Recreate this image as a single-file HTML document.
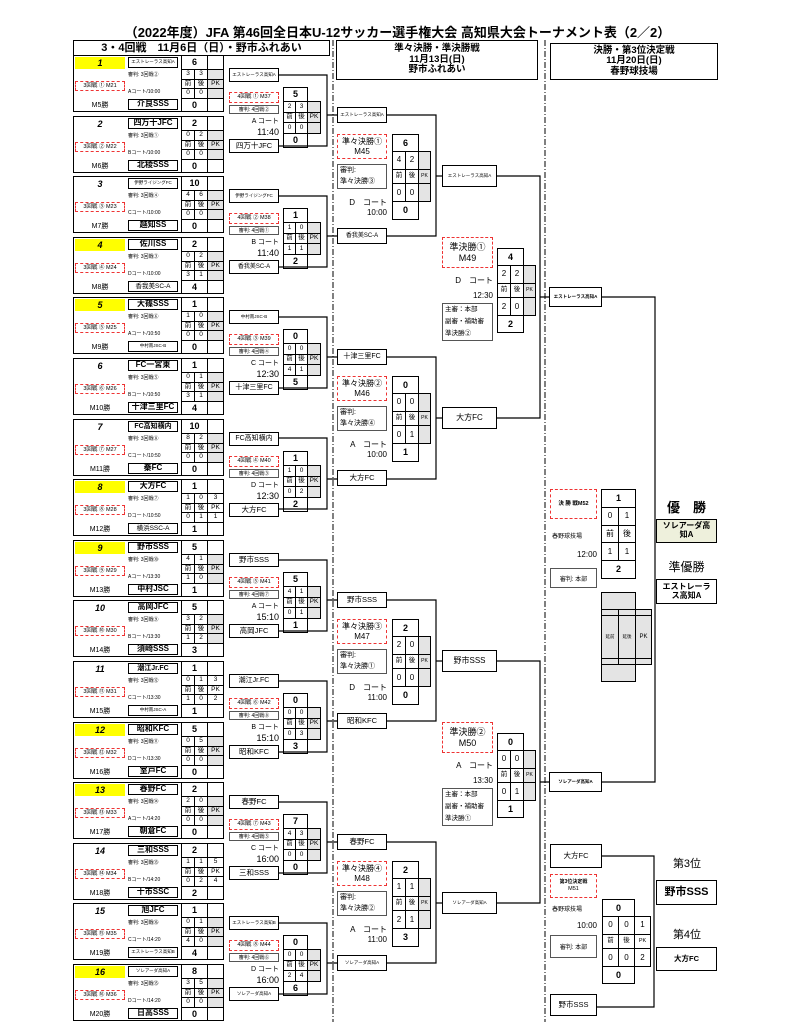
<!DOCTYPE html>
<html><head><meta charset="utf-8"><style>
*{margin:0;padding:0;box-sizing:border-box}
body{width:795px;height:1024px;background:#fff;position:relative;overflow:hidden;font-family:"Liberation Sans","Noto Sans CJK JP",sans-serif;color:#000}
.a{position:absolute}
.w{position:absolute;left:0;width:795px;height:0}
.b{position:absolute;border:1px solid #000;background:#fff;text-align:center;display:flex;align-items:center;justify-content:center;line-height:1.1}
.fr{position:absolute;border:1px solid #000}
.y{position:absolute;background:#ffff00;text-align:center;font-style:italic;font-weight:bold;font-size:9px;line-height:12px}
.nn{position:absolute;text-align:center;font-style:italic;font-weight:bold;font-size:9px;line-height:12px}
.r{position:absolute;border:1.5px dashed #e33;text-align:center;font-size:5.5px;display:flex;align-items:center;justify-content:center;line-height:1.15;background:#fff}
.t{position:absolute;font-size:5px;white-space:nowrap}
.m{position:absolute;text-align:center;font-size:7px}
.tn{font-size:8px;font-weight:bold}
.sm{font-size:4.5px}
table.s{position:absolute;border-collapse:collapse;table-layout:fixed}
table.s td{border:1px solid #000;padding:0;text-align:center;font-size:6.5px;line-height:1;overflow:hidden}
table.s td.g{background:#e4e4e4}
table.s td.n{border:none;border-left:1px solid #000}
table.s td.k{font-weight:bold;font-size:9px}
.rt{position:absolute;text-align:right;white-space:nowrap}
.gb{position:absolute;border:1px solid #555;background:#fff}
</style></head><body>

<div class="a" style="left:0;top:22px;width:795px;text-align:center;font-size:13px;font-weight:bold">（2022年度）JFA 第46回全日本U-12サッカー選手権大会 高知県大会トーナメント表（2／2）</div>
<div class="b" style="left:73px;top:40px;width:257px;height:16px;font-size:11px;font-weight:bold">3・4回戦　11月6日（日）・野市ふれあい</div>
<div class="b" style="left:336px;top:40px;width:202px;height:40px;font-size:9.5px;font-weight:bold;flex-direction:column">準々決勝・準決勝戦<br>11月13日(日)<br>野市ふれあい</div>
<div class="b" style="left:550px;top:43px;width:168px;height:37px;font-size:9.5px;font-weight:bold;flex-direction:column">決勝・第3位決定戦<br>11月20日(日)<br>春野球技場</div>

<svg class="a" style="left:0;top:0" width="795" height="1024">
<g stroke="#000" stroke-width="1" stroke-dasharray="6,2,1,2"><line x1="333" y1="40" x2="333" y2="1022"/><line x1="545" y1="40" x2="545" y2="1022"/></g>
<g stroke="#000" stroke-width="1.2" fill="none">
<path d="M279 75H327V146H279M327 115H337"/>
<path d="M279 196H327V267H279M327 236H337"/>
<path d="M279 317H327V388H279M327 357H337"/>
<path d="M279 438H327V509H279M327 479H337"/>
<path d="M279 560H327V631H279M327 600H337"/>
<path d="M279 681H327V752H279M327 721H337"/>
<path d="M279 802H327V873H279M327 842H337"/>
<path d="M279 923H327V994H279M327 963H337"/>
<path d="M387 115H436V236H387M436 176H442"/>
<path d="M387 357H436V479H387M436 418H442"/>
<path d="M387 600H436V721H387M436 661H442"/>
<path d="M387 842H436V963H387M436 903H442"/>
<path d="M497 176H540V418H497M540 297H549"/>
<path d="M497 661H540V903H497M540 782H549"/>
<path d="M602 297H655V782H602"/>
<path d="M602 856H654V1007H597"/>
</g></svg>

<!-- 3rd round blocks -->
<div class="w" style="top:53px"><div class="fr" style="left:73px;top:2px;width:151px;height:57px"></div><div class="y" style="left:75px;top:4px;width:50px;height:12px">1</div><div class="b sm" style="left:128px;top:4px;width:50px;height:11px">エストレーラス高知A</div><div class="t" style="left:128px;top:18px">審判: 3回戦②</div><div class="r" style="left:75px;top:28px;width:50px;height:10px">3回戦 ① M21</div><div class="t" style="left:128px;top:35px">Aコート/10:00</div><div class="m" style="left:75px;top:47px;width:50px">M5勝</div><div class="b tn" style="left:128px;top:46px;width:50px;height:11px">介良SSS</div>
<table class="s" style="left:181px;top:2px;width:42px;height:57px"><col style="width:13px"><col style="width:13px"><col style="width:16px"><tr style="height:14px"><td colspan="2" class="k">6</td><td class="n"></td></tr><tr><td>3</td><td>3</td><td class="g"></td></tr><tr><td>前</td><td>後</td><td class="g">PK</td></tr><tr><td>0</td><td>0</td><td class="g"></td></tr><tr style="height:13px"><td colspan="2" class="k">0</td><td class="n"></td></tr></table></div>

<div class="w" style="top:114px"><div class="fr" style="left:73px;top:2px;width:151px;height:57px"></div><div class="nn" style="left:75px;top:4px;width:50px">2</div><div class="b tn" style="left:128px;top:4px;width:50px;height:11px">四万十JFC</div><div class="t" style="left:128px;top:18px">審判: 3回戦①</div><div class="r" style="left:75px;top:28px;width:50px;height:10px">3回戦 ② M22</div><div class="t" style="left:128px;top:35px">Bコート/10:00</div><div class="m" style="left:75px;top:47px;width:50px">M6勝</div><div class="b tn" style="left:128px;top:46px;width:50px;height:11px">北稜SSS</div>
<table class="s" style="left:181px;top:2px;width:42px;height:57px"><col style="width:13px"><col style="width:13px"><col style="width:16px"><tr style="height:14px"><td colspan="2" class="k">2</td><td class="n"></td></tr><tr><td>0</td><td>2</td><td class="g"></td></tr><tr><td>前</td><td>後</td><td class="g">PK</td></tr><tr><td>0</td><td>0</td><td class="g"></td></tr><tr style="height:13px"><td colspan="2" class="k">0</td><td class="n"></td></tr></table></div>

<div class="w" style="top:174px"><div class="fr" style="left:73px;top:2px;width:151px;height:57px"></div><div class="nn" style="left:75px;top:4px;width:50px">3</div><div class="b sm" style="left:128px;top:4px;width:50px;height:11px">伊野ライジングFC</div><div class="t" style="left:128px;top:18px">審判: 3回戦④</div><div class="r" style="left:75px;top:28px;width:50px;height:10px">3回戦 ③ M23</div><div class="t" style="left:128px;top:35px">Cコート/10:00</div><div class="m" style="left:75px;top:47px;width:50px">M7勝</div><div class="b tn" style="left:128px;top:46px;width:50px;height:11px">越知SS</div>
<table class="s" style="left:181px;top:2px;width:42px;height:57px"><col style="width:13px"><col style="width:13px"><col style="width:16px"><tr style="height:14px"><td colspan="2" class="k">10</td><td class="n"></td></tr><tr><td>4</td><td>6</td><td class="g"></td></tr><tr><td>前</td><td>後</td><td class="g">PK</td></tr><tr><td>0</td><td>0</td><td class="g"></td></tr><tr style="height:13px"><td colspan="2" class="k">0</td><td class="n"></td></tr></table></div>

<div class="w" style="top:235px"><div class="fr" style="left:73px;top:2px;width:151px;height:57px"></div><div class="y" style="left:75px;top:4px;width:50px;height:12px">4</div><div class="b tn" style="left:128px;top:4px;width:50px;height:11px">佐川SS</div><div class="t" style="left:128px;top:18px">審判: 3回戦③</div><div class="r" style="left:75px;top:28px;width:50px;height:10px">3回戦 ④ M24</div><div class="t" style="left:128px;top:35px">Dコート/10:00</div><div class="m" style="left:75px;top:47px;width:50px">M8勝</div><div class="b" style="left:128px;top:46px;width:50px;height:11px;font-size:6.5px">香我美SC-A</div>
<table class="s" style="left:181px;top:2px;width:42px;height:57px"><col style="width:13px"><col style="width:13px"><col style="width:16px"><tr style="height:14px"><td colspan="2" class="k">2</td><td class="n"></td></tr><tr><td>0</td><td>2</td><td class="g"></td></tr><tr><td>前</td><td>後</td><td class="g">PK</td></tr><tr><td>3</td><td>1</td><td class="g"></td></tr><tr style="height:13px"><td colspan="2" class="k">4</td><td class="n"></td></tr></table></div>

<div class="w" style="top:295px"><div class="fr" style="left:73px;top:2px;width:151px;height:57px"></div><div class="y" style="left:75px;top:4px;width:50px;height:12px">5</div><div class="b tn" style="left:128px;top:4px;width:50px;height:11px">大篠SSS</div><div class="t" style="left:128px;top:18px">審判: 3回戦⑥</div><div class="r" style="left:75px;top:28px;width:50px;height:10px">3回戦 ⑤ M25</div><div class="t" style="left:128px;top:35px">Aコート/10:50</div><div class="m" style="left:75px;top:47px;width:50px">M9勝</div><div class="b sm" style="left:128px;top:46px;width:50px;height:11px">中村南JSC-B</div>
<table class="s" style="left:181px;top:2px;width:42px;height:57px"><col style="width:13px"><col style="width:13px"><col style="width:16px"><tr style="height:14px"><td colspan="2" class="k">1</td><td class="n"></td></tr><tr><td>1</td><td>0</td><td class="g"></td></tr><tr><td>前</td><td>後</td><td class="g">PK</td></tr><tr><td>0</td><td>0</td><td class="g"></td></tr><tr style="height:13px"><td colspan="2" class="k">0</td><td class="n"></td></tr></table></div>

<div class="w" style="top:356px"><div class="fr" style="left:73px;top:2px;width:151px;height:57px"></div><div class="nn" style="left:75px;top:4px;width:50px">6</div><div class="b tn" style="left:128px;top:4px;width:50px;height:11px">FC一宮東</div><div class="t" style="left:128px;top:18px">審判: 3回戦⑤</div><div class="r" style="left:75px;top:28px;width:50px;height:10px">3回戦 ⑥ M26</div><div class="t" style="left:128px;top:35px">Bコート/10:50</div><div class="m" style="left:75px;top:47px;width:50px">M10勝</div><div class="b tn" style="left:128px;top:46px;width:50px;height:11px">十津三里FC</div>
<table class="s" style="left:181px;top:2px;width:42px;height:57px"><col style="width:13px"><col style="width:13px"><col style="width:16px"><tr style="height:14px"><td colspan="2" class="k">1</td><td class="n"></td></tr><tr><td>0</td><td>1</td><td class="g"></td></tr><tr><td>前</td><td>後</td><td class="g">PK</td></tr><tr><td>3</td><td>1</td><td class="g"></td></tr><tr style="height:13px"><td colspan="2" class="k">4</td><td class="n"></td></tr></table></div>

<div class="w" style="top:417px"><div class="fr" style="left:73px;top:2px;width:151px;height:57px"></div><div class="nn" style="left:75px;top:4px;width:50px">7</div><div class="b tn" style="left:128px;top:4px;width:50px;height:11px;font-size:7px">FC高知横内</div><div class="t" style="left:128px;top:18px">審判: 3回戦⑧</div><div class="r" style="left:75px;top:28px;width:50px;height:10px">3回戦 ⑦ M27</div><div class="t" style="left:128px;top:35px">Cコート/10:50</div><div class="m" style="left:75px;top:47px;width:50px">M11勝</div><div class="b tn" style="left:128px;top:46px;width:50px;height:11px">秦FC</div>
<table class="s" style="left:181px;top:2px;width:42px;height:57px"><col style="width:13px"><col style="width:13px"><col style="width:16px"><tr style="height:14px"><td colspan="2" class="k">10</td><td class="n"></td></tr><tr><td>8</td><td>2</td><td class="g"></td></tr><tr><td>前</td><td>後</td><td class="g">PK</td></tr><tr><td>0</td><td>0</td><td class="g"></td></tr><tr style="height:13px"><td colspan="2" class="k">0</td><td class="n"></td></tr></table></div>

<div class="w" style="top:477px"><div class="fr" style="left:73px;top:2px;width:151px;height:57px"></div><div class="y" style="left:75px;top:4px;width:50px;height:12px">8</div><div class="b tn" style="left:128px;top:4px;width:50px;height:11px">大方FC</div><div class="t" style="left:128px;top:18px">審判: 3回戦⑦</div><div class="r" style="left:75px;top:28px;width:50px;height:10px">3回戦 ⑧ M28</div><div class="t" style="left:128px;top:35px">Dコート/10:50</div><div class="m" style="left:75px;top:47px;width:50px">M12勝</div><div class="b" style="left:128px;top:46px;width:50px;height:11px;font-size:6.5px">横浜SSC-A</div>
<table class="s" style="left:181px;top:2px;width:42px;height:57px"><col style="width:13px"><col style="width:13px"><col style="width:16px"><tr style="height:14px"><td colspan="2" class="k">1</td><td class="n"></td></tr><tr><td>1</td><td>0</td><td>3</td></tr><tr><td>前</td><td>後</td><td>PK</td></tr><tr><td>0</td><td>1</td><td>1</td></tr><tr style="height:13px"><td colspan="2" class="k">1</td><td class="n"></td></tr></table></div>

<div class="w" style="top:538px"><div class="fr" style="left:73px;top:2px;width:151px;height:57px"></div><div class="y" style="left:75px;top:4px;width:50px;height:12px">9</div><div class="b tn" style="left:128px;top:4px;width:50px;height:11px">野市SSS</div><div class="t" style="left:128px;top:18px">審判: 3回戦⑩</div><div class="r" style="left:75px;top:28px;width:50px;height:10px">3回戦 ⑨ M29</div><div class="t" style="left:128px;top:35px">Aコート/13:30</div><div class="m" style="left:75px;top:47px;width:50px">M13勝</div><div class="b tn" style="left:128px;top:46px;width:50px;height:11px">中村JSC</div>
<table class="s" style="left:181px;top:2px;width:42px;height:57px"><col style="width:13px"><col style="width:13px"><col style="width:16px"><tr style="height:14px"><td colspan="2" class="k">5</td><td class="n"></td></tr><tr><td>4</td><td>1</td><td class="g"></td></tr><tr><td>前</td><td>後</td><td class="g">PK</td></tr><tr><td>1</td><td>0</td><td class="g"></td></tr><tr style="height:13px"><td colspan="2" class="k">1</td><td class="n"></td></tr></table></div>

<div class="w" style="top:598px"><div class="fr" style="left:73px;top:2px;width:151px;height:57px"></div><div class="nn" style="left:75px;top:4px;width:50px">10</div><div class="b tn" style="left:128px;top:4px;width:50px;height:11px">高岡JFC</div><div class="t" style="left:128px;top:18px">審判: 3回戦⑨</div><div class="r" style="left:75px;top:28px;width:50px;height:10px">3回戦 ⑩ M30</div><div class="t" style="left:128px;top:35px">Bコート/13:30</div><div class="m" style="left:75px;top:47px;width:50px">M14勝</div><div class="b tn" style="left:128px;top:46px;width:50px;height:11px">須崎SSS</div>
<table class="s" style="left:181px;top:2px;width:42px;height:57px"><col style="width:13px"><col style="width:13px"><col style="width:16px"><tr style="height:14px"><td colspan="2" class="k">5</td><td class="n"></td></tr><tr><td>3</td><td>2</td><td class="g"></td></tr><tr><td>前</td><td>後</td><td class="g">PK</td></tr><tr><td>1</td><td>2</td><td class="g"></td></tr><tr style="height:13px"><td colspan="2" class="k">3</td><td class="n"></td></tr></table></div>

<div class="w" style="top:659px"><div class="fr" style="left:73px;top:2px;width:151px;height:57px"></div><div class="nn" style="left:75px;top:4px;width:50px">11</div><div class="b tn" style="left:128px;top:4px;width:50px;height:11px;font-size:7px">潮江Jr.FC</div><div class="t" style="left:128px;top:18px">審判: 3回戦⑫</div><div class="r" style="left:75px;top:28px;width:50px;height:10px">3回戦 ⑪ M31</div><div class="t" style="left:128px;top:35px">Cコート/13:30</div><div class="m" style="left:75px;top:47px;width:50px">M15勝</div><div class="b sm" style="left:128px;top:46px;width:50px;height:11px">中村南JSC-A</div>
<table class="s" style="left:181px;top:2px;width:42px;height:57px"><col style="width:13px"><col style="width:13px"><col style="width:16px"><tr style="height:14px"><td colspan="2" class="k">1</td><td class="n"></td></tr><tr><td>0</td><td>1</td><td>3</td></tr><tr><td>前</td><td>後</td><td>PK</td></tr><tr><td>1</td><td>0</td><td>2</td></tr><tr style="height:13px"><td colspan="2" class="k">1</td><td class="n"></td></tr></table></div>

<div class="w" style="top:720px"><div class="fr" style="left:73px;top:2px;width:151px;height:57px"></div><div class="y" style="left:75px;top:4px;width:50px;height:12px">12</div><div class="b tn" style="left:128px;top:4px;width:50px;height:11px">昭和KFC</div><div class="t" style="left:128px;top:18px">審判: 3回戦⑪</div><div class="r" style="left:75px;top:28px;width:50px;height:10px">3回戦 ⑫ M32</div><div class="t" style="left:128px;top:35px">Dコート/13:30</div><div class="m" style="left:75px;top:47px;width:50px">M16勝</div><div class="b tn" style="left:128px;top:46px;width:50px;height:11px">室戸FC</div>
<table class="s" style="left:181px;top:2px;width:42px;height:57px"><col style="width:13px"><col style="width:13px"><col style="width:16px"><tr style="height:14px"><td colspan="2" class="k">5</td><td class="n"></td></tr><tr><td>0</td><td>5</td><td class="g"></td></tr><tr><td>前</td><td>後</td><td class="g">PK</td></tr><tr><td>0</td><td>0</td><td class="g"></td></tr><tr style="height:13px"><td colspan="2" class="k">0</td><td class="n"></td></tr></table></div>

<div class="w" style="top:780px"><div class="fr" style="left:73px;top:2px;width:151px;height:57px"></div><div class="y" style="left:75px;top:4px;width:50px;height:12px">13</div><div class="b tn" style="left:128px;top:4px;width:50px;height:11px">春野FC</div><div class="t" style="left:128px;top:18px">審判: 3回戦⑭</div><div class="r" style="left:75px;top:28px;width:50px;height:10px">3回戦 ⑬ M33</div><div class="t" style="left:128px;top:35px">Aコート/14:20</div><div class="m" style="left:75px;top:47px;width:50px">M17勝</div><div class="b tn" style="left:128px;top:46px;width:50px;height:11px">朝倉FC</div>
<table class="s" style="left:181px;top:2px;width:42px;height:57px"><col style="width:13px"><col style="width:13px"><col style="width:16px"><tr style="height:14px"><td colspan="2" class="k">2</td><td class="n"></td></tr><tr><td>2</td><td>0</td><td class="g"></td></tr><tr><td>前</td><td>後</td><td class="g">PK</td></tr><tr><td>0</td><td>0</td><td class="g"></td></tr><tr style="height:13px"><td colspan="2" class="k">0</td><td class="n"></td></tr></table></div>

<div class="w" style="top:841px"><div class="fr" style="left:73px;top:2px;width:151px;height:57px"></div><div class="nn" style="left:75px;top:4px;width:50px">14</div><div class="b tn" style="left:128px;top:4px;width:50px;height:11px">三和SSS</div><div class="t" style="left:128px;top:18px">審判: 3回戦⑬</div><div class="r" style="left:75px;top:28px;width:50px;height:10px">3回戦 ⑭ M34</div><div class="t" style="left:128px;top:35px">Bコート/14:20</div><div class="m" style="left:75px;top:47px;width:50px">M18勝</div><div class="b tn" style="left:128px;top:46px;width:50px;height:11px">十市SSC</div>
<table class="s" style="left:181px;top:2px;width:42px;height:57px"><col style="width:13px"><col style="width:13px"><col style="width:16px"><tr style="height:14px"><td colspan="2" class="k">2</td><td class="n"></td></tr><tr><td>1</td><td>1</td><td>5</td></tr><tr><td>前</td><td>後</td><td>PK</td></tr><tr><td>0</td><td>2</td><td>4</td></tr><tr style="height:13px"><td colspan="2" class="k">2</td><td class="n"></td></tr></table></div>

<div class="w" style="top:901px"><div class="fr" style="left:73px;top:2px;width:151px;height:57px"></div><div class="nn" style="left:75px;top:4px;width:50px">15</div><div class="b tn" style="left:128px;top:4px;width:50px;height:11px">旭JFC</div><div class="t" style="left:128px;top:18px">審判: 3回戦⑯</div><div class="r" style="left:75px;top:28px;width:50px;height:10px">3回戦 ⑮ M35</div><div class="t" style="left:128px;top:35px">Cコート/14:20</div><div class="m" style="left:75px;top:47px;width:50px">M19勝</div><div class="b sm" style="left:128px;top:46px;width:50px;height:11px">エストレーラス高知B</div>
<table class="s" style="left:181px;top:2px;width:42px;height:57px"><col style="width:13px"><col style="width:13px"><col style="width:16px"><tr style="height:14px"><td colspan="2" class="k">1</td><td class="n"></td></tr><tr><td>0</td><td>1</td><td class="g"></td></tr><tr><td>前</td><td>後</td><td class="g">PK</td></tr><tr><td>4</td><td>0</td><td class="g"></td></tr><tr style="height:13px"><td colspan="2" class="k">4</td><td class="n"></td></tr></table></div>

<div class="w" style="top:962px"><div class="fr" style="left:73px;top:2px;width:151px;height:57px"></div><div class="y" style="left:75px;top:4px;width:50px;height:12px">16</div><div class="b sm" style="left:128px;top:4px;width:50px;height:11px">ソレアーダ高知A</div><div class="t" style="left:128px;top:18px">審判: 3回戦⑮</div><div class="r" style="left:75px;top:28px;width:50px;height:10px">3回戦 ⑯ M36</div><div class="t" style="left:128px;top:35px">Dコート/14:20</div><div class="m" style="left:75px;top:47px;width:50px">M20勝</div><div class="b tn" style="left:128px;top:46px;width:50px;height:11px">日高SSS</div>
<table class="s" style="left:181px;top:2px;width:42px;height:57px"><col style="width:13px"><col style="width:13px"><col style="width:16px"><tr style="height:14px"><td colspan="2" class="k">8</td><td class="n"></td></tr><tr><td>3</td><td>5</td><td class="g"></td></tr><tr><td>前</td><td>後</td><td class="g">PK</td></tr><tr><td>0</td><td>0</td><td class="g"></td></tr><tr style="height:13px"><td colspan="2" class="k">0</td><td class="n"></td></tr></table></div>

<!-- 4th round -->
<div class="w" style="top:53px"><div class="b sm" style="left:229px;top:15px;width:50px;height:14px">エストレーラス高知A</div><div class="r" style="left:229px;top:39px;width:50px;height:11px">4回戦 ① M37</div><div class="gb t" style="left:229px;top:52px;width:50px;height:9px;text-align:center">審判: 4回戦②</div><div class="rt" style="left:229px;top:63px;width:50px;font-size:7px">A コート</div><div class="rt" style="left:229px;top:74px;width:50px;font-size:9px">11:40</div><div class="b" style="left:229px;top:86px;width:50px;height:14px;font-size:7.5px">四万十JFC</div>
<table class="s" style="left:283px;top:34px;width:37px;height:61px"><col style="width:12px"><col style="width:12px"><col style="width:13px"><tr style="height:14px"><td colspan="2" class="k">5</td><td class="n"></td></tr><tr><td>2</td><td>3</td><td class="g"></td></tr><tr><td>前</td><td>後</td><td class="g">PK</td></tr><tr><td>0</td><td>0</td><td class="g"></td></tr><tr style="height:14px"><td colspan="2" class="k">0</td><td class="n"></td></tr></table></div>

<div class="w" style="top:174px"><div class="b sm" style="left:229px;top:15px;width:50px;height:14px">伊野ライジングFC</div><div class="r" style="left:229px;top:39px;width:50px;height:11px">4回戦 ② M38</div><div class="gb t" style="left:229px;top:52px;width:50px;height:9px;text-align:center">審判: 4回戦①</div><div class="rt" style="left:229px;top:63px;width:50px;font-size:7px">B コート</div><div class="rt" style="left:229px;top:74px;width:50px;font-size:9px">11:40</div><div class="b" style="left:229px;top:86px;width:50px;height:14px;font-size:6px">香我美SC-A</div>
<table class="s" style="left:283px;top:34px;width:37px;height:61px"><col style="width:12px"><col style="width:12px"><col style="width:13px"><tr style="height:14px"><td colspan="2" class="k">1</td><td class="n"></td></tr><tr><td>1</td><td>0</td><td class="g"></td></tr><tr><td>前</td><td>後</td><td class="g">PK</td></tr><tr><td>1</td><td>1</td><td class="g"></td></tr><tr style="height:14px"><td colspan="2" class="k">2</td><td class="n"></td></tr></table></div>

<div class="w" style="top:295px"><div class="b sm" style="left:229px;top:15px;width:50px;height:14px">中村南JSC-B</div><div class="r" style="left:229px;top:39px;width:50px;height:11px">4回戦 ③ M39</div><div class="gb t" style="left:229px;top:52px;width:50px;height:9px;text-align:center">審判: 4回戦④</div><div class="rt" style="left:229px;top:63px;width:50px;font-size:7px">C コート</div><div class="rt" style="left:229px;top:74px;width:50px;font-size:9px">12:30</div><div class="b" style="left:229px;top:86px;width:50px;height:14px;font-size:7px">十津三里FC</div>
<table class="s" style="left:283px;top:34px;width:37px;height:61px"><col style="width:12px"><col style="width:12px"><col style="width:13px"><tr style="height:14px"><td colspan="2" class="k">0</td><td class="n"></td></tr><tr><td>0</td><td>0</td><td class="g"></td></tr><tr><td>前</td><td>後</td><td class="g">PK</td></tr><tr><td>4</td><td>1</td><td class="g"></td></tr><tr style="height:14px"><td colspan="2" class="k">5</td><td class="n"></td></tr></table></div>

<div class="w" style="top:417px"><div class="b" style="left:229px;top:15px;width:50px;height:14px;font-size:7px">FC高知横内</div><div class="r" style="left:229px;top:39px;width:50px;height:11px">4回戦 ④ M40</div><div class="gb t" style="left:229px;top:52px;width:50px;height:9px;text-align:center">審判: 4回戦③</div><div class="rt" style="left:229px;top:63px;width:50px;font-size:7px">D コート</div><div class="rt" style="left:229px;top:74px;width:50px;font-size:9px">12:30</div><div class="b" style="left:229px;top:86px;width:50px;height:14px;font-size:7.5px">大方FC</div>
<table class="s" style="left:283px;top:34px;width:37px;height:61px"><col style="width:12px"><col style="width:12px"><col style="width:13px"><tr style="height:14px"><td colspan="2" class="k">1</td><td class="n"></td></tr><tr><td>1</td><td>0</td><td class="g"></td></tr><tr><td>前</td><td>後</td><td class="g">PK</td></tr><tr><td>0</td><td>2</td><td class="g"></td></tr><tr style="height:14px"><td colspan="2" class="k">2</td><td class="n"></td></tr></table></div>

<div class="w" style="top:538px"><div class="b" style="left:229px;top:15px;width:50px;height:14px;font-size:7.5px">野市SSS</div><div class="r" style="left:229px;top:39px;width:50px;height:11px">4回戦 ⑤ M41</div><div class="gb t" style="left:229px;top:52px;width:50px;height:9px;text-align:center">審判: 4回戦⑦</div><div class="rt" style="left:229px;top:63px;width:50px;font-size:7px">A コート</div><div class="rt" style="left:229px;top:74px;width:50px;font-size:9px">15:10</div><div class="b" style="left:229px;top:86px;width:50px;height:14px;font-size:7.5px">高岡JFC</div>
<table class="s" style="left:283px;top:34px;width:37px;height:61px"><col style="width:12px"><col style="width:12px"><col style="width:13px"><tr style="height:14px"><td colspan="2" class="k">5</td><td class="n"></td></tr><tr><td>4</td><td>1</td><td class="g"></td></tr><tr><td>前</td><td>後</td><td class="g">PK</td></tr><tr><td>0</td><td>1</td><td class="g"></td></tr><tr style="height:14px"><td colspan="2" class="k">1</td><td class="n"></td></tr></table></div>

<div class="w" style="top:659px"><div class="b" style="left:229px;top:15px;width:50px;height:14px;font-size:7px">潮江Jr.FC</div><div class="r" style="left:229px;top:39px;width:50px;height:11px">4回戦 ⑥ M42</div><div class="gb t" style="left:229px;top:52px;width:50px;height:9px;text-align:center">審判: 4回戦⑧</div><div class="rt" style="left:229px;top:63px;width:50px;font-size:7px">B コート</div><div class="rt" style="left:229px;top:74px;width:50px;font-size:9px">15:10</div><div class="b" style="left:229px;top:86px;width:50px;height:14px;font-size:7.5px">昭和KFC</div>
<table class="s" style="left:283px;top:34px;width:37px;height:61px"><col style="width:12px"><col style="width:12px"><col style="width:13px"><tr style="height:14px"><td colspan="2" class="k">0</td><td class="n"></td></tr><tr><td>0</td><td>0</td><td class="g"></td></tr><tr><td>前</td><td>後</td><td class="g">PK</td></tr><tr><td>0</td><td>3</td><td class="g"></td></tr><tr style="height:14px"><td colspan="2" class="k">3</td><td class="n"></td></tr></table></div>

<div class="w" style="top:780px"><div class="b" style="left:229px;top:15px;width:50px;height:14px;font-size:7.5px">春野FC</div><div class="r" style="left:229px;top:39px;width:50px;height:11px">4回戦 ⑦ M43</div><div class="gb t" style="left:229px;top:52px;width:50px;height:9px;text-align:center">審判: 4回戦⑤</div><div class="rt" style="left:229px;top:63px;width:50px;font-size:7px">C コート</div><div class="rt" style="left:229px;top:74px;width:50px;font-size:9px">16:00</div><div class="b" style="left:229px;top:86px;width:50px;height:14px;font-size:7.5px">三和SSS</div>
<table class="s" style="left:283px;top:34px;width:37px;height:61px"><col style="width:12px"><col style="width:12px"><col style="width:13px"><tr style="height:14px"><td colspan="2" class="k">7</td><td class="n"></td></tr><tr><td>4</td><td>3</td><td class="g"></td></tr><tr><td>前</td><td>後</td><td class="g">PK</td></tr><tr><td>0</td><td>0</td><td class="g"></td></tr><tr style="height:14px"><td colspan="2" class="k">0</td><td class="n"></td></tr></table></div>

<div class="w" style="top:901px"><div class="b sm" style="left:229px;top:15px;width:50px;height:14px">エストレーラス高知B</div><div class="r" style="left:229px;top:39px;width:50px;height:11px">4回戦 ⑧ M44</div><div class="gb t" style="left:229px;top:52px;width:50px;height:9px;text-align:center">審判: 4回戦⑥</div><div class="rt" style="left:229px;top:63px;width:50px;font-size:7px">D コート</div><div class="rt" style="left:229px;top:74px;width:50px;font-size:9px">16:00</div><div class="b sm" style="left:229px;top:86px;width:50px;height:14px">ソレアーダ高知A</div>
<table class="s" style="left:283px;top:34px;width:37px;height:61px"><col style="width:12px"><col style="width:12px"><col style="width:13px"><tr style="height:14px"><td colspan="2" class="k">0</td><td class="n"></td></tr><tr><td>0</td><td>0</td><td class="g"></td></tr><tr><td>前</td><td>後</td><td class="g">PK</td></tr><tr><td>2</td><td>4</td><td class="g"></td></tr><tr style="height:14px"><td colspan="2" class="k">6</td><td class="n"></td></tr></table></div>

<!-- QF -->
<div class="w" style="top:115px"><div class="b sm" style="left:337px;top:-8px;width:50px;height:16px">エストレーラス高知A</div><div class="r" style="left:337px;top:19px;width:50px;height:25px;font-size:8px">準々決勝①<br>M45</div><div class="gb" style="left:337px;top:49px;width:50px;height:25px;font-size:7px;line-height:11px;padding-left:2px">審判:<br>準々決勝③</div><div class="rt" style="left:337px;top:82px;width:50px;font-size:8px">D　コート</div><div class="rt" style="left:337px;top:93px;width:50px;font-size:8px">10:00</div><div class="b" style="left:337px;top:113px;width:50px;height:16px;font-size:6px">香我美SC-A</div>
<table class="s" style="left:392px;top:19px;width:38px;height:86px"><col style="width:13px"><col style="width:13px"><col style="width:12px"><tr style="height:17px"><td colspan="2" class="k">6</td><td class="n"></td></tr><tr><td style="font-size:8px">4</td><td style="font-size:8px">2</td><td class="g"></td></tr><tr><td>前</td><td>後</td><td class="g" style="font-size:5px">PK</td></tr><tr><td style="font-size:8px">0</td><td style="font-size:8px">0</td><td class="g"></td></tr><tr style="height:18px"><td colspan="2" class="k">0</td><td class="n"></td></tr></table>
<div class="b sm" style="left:442px;top:50px;width:55px;height:22px">エストレーラス高知A</div></div>

<div class="w" style="top:357px"><div class="b" style="left:337px;top:-8px;width:50px;height:16px;font-size:7px">十津三里FC</div><div class="r" style="left:337px;top:19px;width:50px;height:25px;font-size:8px">準々決勝②<br>M46</div><div class="gb" style="left:337px;top:49px;width:50px;height:25px;font-size:7px;line-height:11px;padding-left:2px">審判:<br>準々決勝④</div><div class="rt" style="left:337px;top:82px;width:50px;font-size:8px">A　コート</div><div class="rt" style="left:337px;top:93px;width:50px;font-size:8px">10:00</div><div class="b" style="left:337px;top:113px;width:50px;height:16px;font-size:7.5px">大方FC</div>
<table class="s" style="left:392px;top:19px;width:38px;height:86px"><col style="width:13px"><col style="width:13px"><col style="width:12px"><tr style="height:17px"><td colspan="2" class="k">0</td><td class="n"></td></tr><tr><td style="font-size:8px">0</td><td style="font-size:8px">0</td><td class="g"></td></tr><tr><td>前</td><td>後</td><td class="g" style="font-size:5px">PK</td></tr><tr><td style="font-size:8px">0</td><td style="font-size:8px">1</td><td class="g"></td></tr><tr style="height:18px"><td colspan="2" class="k">1</td><td class="n"></td></tr></table>
<div class="b" style="left:442px;top:50px;width:55px;height:22px;font-size:8px">大方FC</div></div>

<div class="w" style="top:600px"><div class="b" style="left:337px;top:-8px;width:50px;height:16px;font-size:7.5px">野市SSS</div><div class="r" style="left:337px;top:19px;width:50px;height:25px;font-size:8px">準々決勝③<br>M47</div><div class="gb" style="left:337px;top:49px;width:50px;height:25px;font-size:7px;line-height:11px;padding-left:2px">審判:<br>準々決勝①</div><div class="rt" style="left:337px;top:82px;width:50px;font-size:8px">D　コート</div><div class="rt" style="left:337px;top:93px;width:50px;font-size:8px">11:00</div><div class="b" style="left:337px;top:113px;width:50px;height:16px;font-size:7.5px">昭和KFC</div>
<table class="s" style="left:392px;top:19px;width:38px;height:86px"><col style="width:13px"><col style="width:13px"><col style="width:12px"><tr style="height:17px"><td colspan="2" class="k">2</td><td class="n"></td></tr><tr><td style="font-size:8px">2</td><td style="font-size:8px">0</td><td class="g"></td></tr><tr><td>前</td><td>後</td><td class="g" style="font-size:5px">PK</td></tr><tr><td style="font-size:8px">0</td><td style="font-size:8px">0</td><td class="g"></td></tr><tr style="height:18px"><td colspan="2" class="k">0</td><td class="n"></td></tr></table>
<div class="b" style="left:442px;top:50px;width:55px;height:22px;font-size:8px">野市SSS</div></div>

<div class="w" style="top:842px"><div class="b" style="left:337px;top:-8px;width:50px;height:16px;font-size:7.5px">春野FC</div><div class="r" style="left:337px;top:19px;width:50px;height:25px;font-size:8px">準々決勝④<br>M48</div><div class="gb" style="left:337px;top:49px;width:50px;height:25px;font-size:7px;line-height:11px;padding-left:2px">審判:<br>準々決勝②</div><div class="rt" style="left:337px;top:82px;width:50px;font-size:8px">A　コート</div><div class="rt" style="left:337px;top:93px;width:50px;font-size:8px">11:00</div><div class="b sm" style="left:337px;top:113px;width:50px;height:16px">ソレアーダ高知A</div>
<table class="s" style="left:392px;top:19px;width:38px;height:86px"><col style="width:13px"><col style="width:13px"><col style="width:12px"><tr style="height:17px"><td colspan="2" class="k">2</td><td class="n"></td></tr><tr><td style="font-size:8px">1</td><td style="font-size:8px">1</td><td class="g"></td></tr><tr><td>前</td><td>後</td><td class="g" style="font-size:5px">PK</td></tr><tr><td style="font-size:8px">2</td><td style="font-size:8px">1</td><td class="g"></td></tr><tr style="height:18px"><td colspan="2" class="k">3</td><td class="n"></td></tr></table>
<div class="b sm" style="left:442px;top:50px;width:55px;height:22px">ソレアーダ高知A</div></div>

<!-- SF -->
<div class="w" style="top:297px"><div class="r" style="left:442px;top:-60px;width:51px;height:31px;font-size:9px">準決勝①<br>M49</div><div class="rt" style="left:442px;top:-22px;width:51px;font-size:8px">D　コート</div><div class="rt" style="left:442px;top:-6px;width:51px;font-size:8px">12:30</div><div class="gb" style="left:442px;top:6px;width:51px;height:38px;font-size:6.5px;line-height:12px;padding-left:2px">主審：本部<br>副審・補助審<br>準決勝②</div>
<table class="s" style="left:497px;top:-49px;width:38px;height:85px"><col style="width:13px"><col style="width:13px"><col style="width:12px"><tr style="height:17px"><td colspan="2" class="k">4</td><td class="n"></td></tr><tr><td style="font-size:8px">2</td><td style="font-size:8px">2</td><td class="g"></td></tr><tr><td>前</td><td>後</td><td class="g" style="font-size:5px">PK</td></tr><tr><td style="font-size:8px">2</td><td style="font-size:8px">0</td><td class="g"></td></tr><tr style="height:17px"><td colspan="2" class="k">2</td><td class="n"></td></tr></table>
<div class="b sm" style="left:549px;top:-10px;width:53px;height:20px;font-weight:bold">エストレーラス高知A</div></div>

<div class="w" style="top:782px"><div class="r" style="left:442px;top:-60px;width:51px;height:31px;font-size:9px">準決勝②<br>M50</div><div class="rt" style="left:442px;top:-22px;width:51px;font-size:8px">A　コート</div><div class="rt" style="left:442px;top:-6px;width:51px;font-size:8px">13:30</div><div class="gb" style="left:442px;top:6px;width:51px;height:38px;font-size:6.5px;line-height:12px;padding-left:2px">主審：本部<br>副審・補助審<br>準決勝①</div>
<table class="s" style="left:497px;top:-49px;width:38px;height:85px"><col style="width:13px"><col style="width:13px"><col style="width:12px"><tr style="height:17px"><td colspan="2" class="k">0</td><td class="n"></td></tr><tr><td style="font-size:8px">0</td><td style="font-size:8px">0</td><td class="g"></td></tr><tr><td>前</td><td>後</td><td class="g" style="font-size:5px">PK</td></tr><tr><td style="font-size:8px">0</td><td style="font-size:8px">1</td><td class="g"></td></tr><tr style="height:17px"><td colspan="2" class="k">1</td><td class="n"></td></tr></table>
<div class="b sm" style="left:549px;top:-10px;width:53px;height:20px;font-weight:bold">ソレアーダ高知A</div></div>

<!-- Final -->
<div class="r" style="left:550px;top:489px;width:47px;height:30px;font-size:5.5px;font-weight:bold">決 勝 戦M52</div>
<div class="t" style="left:552px;top:531px;font-size:6px">春野球技場</div>
<div class="rt" style="left:550px;top:550px;width:47px;font-size:8px">12:00</div>
<div class="gb" style="left:550px;top:568px;width:47px;height:20px;font-size:6px;display:flex;align-items:center;justify-content:center">審判: 本部</div>
<table class="s" style="left:601px;top:489px;width:34px;height:90px"><col style="width:17px"><col style="width:17px"><tr style="height:18px"><td colspan="2" class="k">1</td></tr><tr><td style="font-size:8px">0</td><td style="font-size:8px">1</td></tr><tr><td style="font-size:8px">前</td><td style="font-size:8px">後</td></tr><tr><td style="font-size:8px">1</td><td style="font-size:8px">1</td></tr><tr style="height:18px"><td colspan="2" class="k">2</td></tr></table>
<table class="s" style="left:601px;top:592px;width:50px;height:90px"><col style="width:17px"><col style="width:17px"><col style="width:16px"><tr style="height:17px"><td colspan="2" class="g"></td><td class="n"></td></tr><tr><td class="g"></td><td class="g"></td><td class="g"></td></tr><tr><td class="g" style="font-size:4.5px">延前</td><td class="g" style="font-size:4.5px">延後</td><td class="g" style="font-size:6px">PK</td></tr><tr><td class="g"></td><td class="g"></td><td class="g"></td></tr><tr style="height:17px"><td colspan="2" class="g"></td><td class="n"></td></tr></table>
<div class="a" style="left:656px;top:497px;width:61px;text-align:center;font-size:13px;font-weight:bold">優　勝</div>
<div class="b" style="left:656px;top:519px;width:61px;height:24px;font-size:8px;font-weight:bold;background:#eef0dc;border-width:1.5px">ソレアーダ高<br>知A</div>
<div class="a" style="left:656px;top:558px;width:61px;text-align:center;font-size:12px">準優勝</div>
<div class="b" style="left:656px;top:579px;width:61px;height:25px;font-size:8px;font-weight:bold;border-width:1.5px">エストレーラ<br>ス高知A</div>

<!-- 3rd place -->
<div class="b" style="left:550px;top:844px;width:52px;height:24px;font-size:7.5px">大方FC</div>
<div class="r" style="left:550px;top:874px;width:47px;height:24px;font-size:5.5px;flex-direction:column"><b style="font-size:5px">第3位決定戦</b>M51</div>
<div class="t" style="left:552px;top:904px;font-size:6px">春野球技場</div>
<div class="rt" style="left:550px;top:921px;width:47px;font-size:8px">10:00</div>
<div class="gb" style="left:550px;top:935px;width:47px;height:23px;font-size:6px;display:flex;align-items:center;justify-content:center">審判: 本部</div>
<table class="s" style="left:602px;top:899px;width:48px;height:85px"><col style="width:16px"><col style="width:16px"><col style="width:16px"><tr style="height:17px"><td colspan="2" class="k">0</td><td class="n"></td></tr><tr><td style="font-size:8px">0</td><td style="font-size:8px">0</td><td style="font-size:8px">1</td></tr><tr><td>前</td><td>後</td><td style="font-size:5.5px">PK</td></tr><tr><td style="font-size:8px">0</td><td style="font-size:8px">0</td><td style="font-size:8px">2</td></tr><tr style="height:17px"><td colspan="2" class="k">0</td><td class="n"></td></tr></table>
<div class="b" style="left:550px;top:994px;width:47px;height:22px;font-size:7.5px">野市SSS</div>
<div class="a" style="left:662px;top:855px;width:50px;text-align:center;font-size:11px">第3位</div>
<div class="b" style="left:656px;top:880px;width:61px;height:25px;font-size:11px;font-weight:bold;border-width:1.5px">野市SSS</div>
<div class="a" style="left:662px;top:926px;width:50px;text-align:center;font-size:11px">第4位</div>
<div class="b" style="left:656px;top:947px;width:61px;height:24px;font-size:7.5px;font-weight:bold;border-width:1.5px">大方FC</div>
</body></html>
